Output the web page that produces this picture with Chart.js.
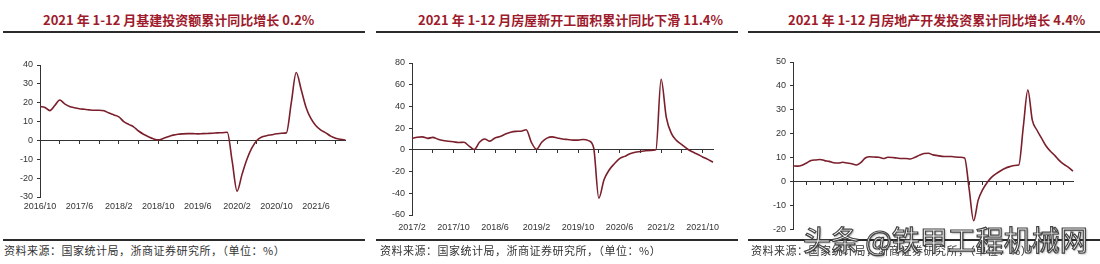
<!DOCTYPE html>
<html>
<head>
<meta charset="utf-8">
<script src="https://cdn.jsdelivr.net/npm/chart.js"></script>
<style>
  body { margin: 0; background: #fff; width: 1100px; height: 264px; overflow: hidden; position: relative; font-family: "Noto Sans CJK SC", sans-serif; }
  .title { position: absolute; top: 11px; font-size: 13px; font-weight: bold; color: #9e1b2c; white-space: nowrap; line-height: 18px; }
  .rule { position: absolute; height: 2px; background: #2b2b2b; }
  .source { position: absolute; top: 243px; font-size: 11px; color: #333; letter-spacing: 0.5px; white-space: nowrap; line-height: 14px; }
  canvas { position: absolute; }
  .watermark { position: absolute; left: 803px; top: 224px; font-size: 28px; line-height: 30px; color: #fff; white-space: nowrap;
    -webkit-text-stroke: 1.2px #444; text-shadow: 1px 1px 2px rgba(0,0,0,0.45); }
</style>
</head>
<body>

<div class="title" style="left:43px">2021 年 1-12 月基建投资额累计同比增长 0.2%</div>
<div class="title" style="left:418px">2021 年 1-12 月房屋新开工面积累计同比下滑 11.4%</div>
<div class="title" style="left:788px">2021 年 1-12 月房地产开发投资累计同比增长 4.4%</div>

<div class="rule" style="left:3px; width:362px; top:31px"></div>
<div class="rule" style="left:376px; width:362px; top:31px"></div>
<div class="rule" style="left:748px; width:352px; top:31px"></div>

<canvas id="infraChart" width="365" height="175" style="left:0px; top:50px"></canvas>
<canvas id="startsChart" width="362" height="189" style="left:376px; top:50px"></canvas>
<canvas id="realEstateChart" width="352" height="189" style="left:748px; top:50px"></canvas>

<div class="rule" style="left:3px; width:362px; top:239px"></div>
<div class="rule" style="left:376px; width:362px; top:239px"></div>
<div class="rule" style="left:748px; width:352px; top:239px"></div>

<div class="source" style="left:4px">资料来源：国家统计局，浙商证券研究所，（单位：%）</div>
<div class="source" style="left:380px">资料来源：国家统计局，浙商证券研究所，（单位：%）</div>
<div class="source" style="left:751px">资料来源：国家统计局，浙商证券研究所，（单位：%）</div>

<div class="watermark">头条 @铁甲工程机械网</div>

<script>
    // Month categories, 2016/10 - 2021/12
    const months = [
        '2016/10', '2016/11', '2016/12',
        '2017/1', '2017/2', '2017/3', '2017/4', '2017/5', '2017/6', '2017/7', '2017/8', '2017/9', '2017/10', '2017/11', '2017/12',
        '2018/1', '2018/2', '2018/3', '2018/4', '2018/5', '2018/6', '2018/7', '2018/8', '2018/9', '2018/10', '2018/11', '2018/12',
        '2019/1', '2019/2', '2019/3', '2019/4', '2019/5', '2019/6', '2019/7', '2019/8', '2019/9', '2019/10', '2019/11', '2019/12',
        '2020/1', '2020/2', '2020/3', '2020/4', '2020/5', '2020/6', '2020/7', '2020/8', '2020/9', '2020/10', '2020/11', '2020/12',
        '2021/1', '2021/2', '2021/3', '2021/4', '2021/5', '2021/6', '2021/7', '2021/8', '2021/9', '2021/10', '2021/11', '2021/12'
    ];
    // new starts chart begins at 2017/2
    const monthsStarts = months.slice(4);

    // 基建投资累计同比 (%)
    const infraValues = [
        18.0, 17.5, 15.8,
        18.5, 21.4, 19.4, 18.0, 17.3, 16.8, 16.5, 16.2, 16.0, 16.0, 15.7, 14.5,
        13.5, 12.5, 10.0, 8.5, 7.2, 5.0, 3.3, 2.0, 0.9, 0.3, 1.0, 2.0,
        2.8, 3.3, 3.5, 3.6, 3.6, 3.5, 3.6, 3.7, 3.8, 4.0, 4.1, 4.3,
        -11.0, -26.9, -18.0, -10.0, -4.0, 0.0, 1.8, 2.5, 3.0, 3.5, 3.8, 4.0,
        20.0, 36.0, 27.0, 17.5, 11.5, 7.8, 5.5, 4.0, 2.3, 1.2, 0.6, 0.2
    ];

    // 房屋新开工面积累计同比 (%), 2017/2 - 2021/12
    const startsValues = [
        10.4, 11.6, 12.0, 10.6, 11.5, 9.8, 8.6, 8.0, 7.4, 6.8, 7.0,
        3.5, 0.3, 7.0, 10.0, 8.0, 11.0, 12.3, 14.5, 16.2, 17.0, 17.2, 18.5,
        7.0, 0.5, 7.0, 10.8, 12.0, 11.0, 10.0, 9.5, 9.0, 9.0, 9.6, 8.5,
        2.0, -44.5, -27.5, -18.5, -12.8, -8.0, -6.0, -3.6, -2.2, -1.5, -0.8, -0.5,
        0.0, 65.0, 30.0, 15.0, 8.5, 4.8, 1.0, -1.8, -4.0, -6.5, -8.8, -11.4
    ];

    // 房地产开发投资累计同比 (%)
    const realEstateValues = [
        6.6, 6.5, 6.9,
        7.8, 8.9, 9.1, 9.3, 8.8, 8.5, 7.9, 7.8, 8.1, 7.8, 7.5, 7.0,
        8.0, 9.9, 10.4, 10.3, 10.2, 9.7, 10.2, 10.1, 9.9, 9.7, 9.7, 9.5,
        10.2, 11.1, 11.8, 11.9, 11.2, 10.9, 10.6, 10.5, 10.5, 10.3, 10.2, 9.9,
        -3.0, -16.3, -7.7, -3.3, -0.3, 1.9, 3.4, 4.6, 5.6, 6.3, 6.8, 7.0,
        23.0, 38.3, 25.6, 21.6, 18.3, 15.0, 12.7, 10.9, 8.8, 7.2, 6.0, 4.4
    ];

    // Tick labels
    const infraXLabels = ['2016/10', '2017/6', '2018/2', '2018/10', '2019/6', '2020/2', '2020/10', '2021/6'];
    const startsXLabels = ['2017/2', '2017/10', '2018/6', '2019/2', '2019/10', '2020/6', '2021/2', '2021/10'];
    const realEstateXLabels = [];

    const infraYTicks = [-30, -20, -10, 0, 10, 20, 30, 40];
    const startsYTicks = [-60, -40, -20, 0, 20, 40, 60, 80];
    const realEstateYTicks = [-20, -10, 0, 10, 20, 30, 40, 50];

    const lineColor = '#7a1f2b';
    const axisColor = '#333';
    const tickFont = { family: 'Liberation Sans', size: 9 };

    function createChart(id, labels, values, yTicks, xLabels, markEvery, box) {
        const ctx = document.getElementById(id).getContext('2d');
        return new Chart(ctx, {
            type: 'line',
            data: {
                labels: labels,
                datasets: [{
                    data: values,
                    borderColor: lineColor,
                    borderWidth: 1.6,
                    pointRadius: 0,
                    fill: false,
                    cubicInterpolationMode: 'monotone'
                }]
            },
            options: {
                responsive: false,
                animation: false,
                layout: { padding: { top: box.top, right: box.right, bottom: box.bottom, left: 0 } },
                plugins: { legend: { display: false }, tooltip: { enabled: false } },
                scales: {
                    y: {
                        position: 'left',
                        min: yTicks[0],
                        max: yTicks[yTicks.length - 1],
                        afterBuildTicks: s => { s.ticks = yTicks.map(v => ({ value: v })); },
                        afterFit: s => { s.width = box.yWidth; },
                        grid: { drawOnChartArea: false, drawTicks: true, tickLength: 3, tickColor: axisColor },
                        border: { color: axisColor, width: 1 },
                        ticks: { padding: 4, color: axisColor, font: tickFont }
                    },
                    // labels along the bottom
                    x: {
                        type: 'category',
                        position: 'bottom',
                        display: xLabels.length > 0,
                        grid: { display: false, drawTicks: false, tickLength: 0 },
                        border: { display: false },
                        afterFit: s => { s.height = box.xHeight; },
                        ticks: {
                            autoSkip: false,
                            maxRotation: 0,
                            padding: box.labelPad,
                            color: axisColor,
                            font: tickFont,
                            callback: function (v) {
                                const l = this.getLabelForValue(v);
                                return xLabels.includes(l) ? l : '';
                            }
                        }
                    },
                    // the axis line that sits on zero
                    x0: {
                        type: 'category',
                        axis: 'x',
                        position: { y: 0 },
                        grid: {
                            drawOnChartArea: false,
                            drawTicks: true,
                            tickLength: 3,
                            tickColor: c => c.index % markEvery === 0 ? axisColor : 'rgba(0,0,0,0)'
                        },
                        border: { color: axisColor, width: 1 },
                        ticks: { display: false }
                    }
                }
            }
        });
    }

    createChart('infraChart', months, infraValues, infraYTicks, infraXLabels, 4,
        { top: 15, right: 19.5, bottom: 0, yWidth: 40, xHeight: 28, labelPad: 4 });
    createChart('startsChart', monthsStarts, startsValues, startsYTicks, startsXLabels, 4,
        { top: 13, right: 25, bottom: 0, yWidth: 36, xHeight: 24, labelPad: 7 });
    createChart('realEstateChart', months, realEstateValues, realEstateYTicks, realEstateXLabels, 3,
        { top: 12, right: 27, bottom: 6, yWidth: 45, xHeight: 0, labelPad: 0 });
</script>
</body>
</html>
